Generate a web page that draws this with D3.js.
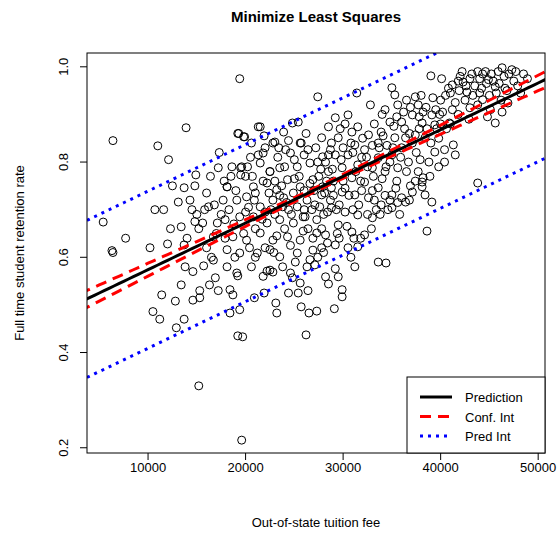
<!DOCTYPE html>
<html>
<head>
<meta charset="utf-8">
<script src="https://d3js.org/d3.v7.min.js"></script>
<style>
body { margin: 0; background: #fff; }
text { font-family: "Liberation Sans", Arial, sans-serif; }
</style>
</head>
<body>
<div id="chart"></div>
<script>
// tuition fee (thousands), retention rate
var pts = [
[6.4,0.845],[19.4,0.975],[13.9,0.872],[11.0,0.834],[12.1,0.805],[5.4,0.674],[7.7,0.64],[6.3,0.614],
[10.2,0.62],[10.7,0.70],[11.6,0.70],[12.5,0.75],[13.7,0.746],[14.8,0.75],[14.9,0.773],[13.1,0.716],
[14.3,0.72],[14.5,0.70],[13.4,0.664],[12.3,0.66],[12.0,0.628],[13.7,0.626],[16.0,0.735],[16.2,0.706],
[17.2,0.788],[17.3,0.82],[18.1,0.748],[16.4,0.77],[17.1,0.672],[15.6,0.672],[14.8,0.675],[16.7,0.643],
[19.2,0.86],[19.8,0.853],[21.3,0.874],[19.5,0.788],[20.2,0.79],[19.5,0.773],[21.3,0.815],[22.5,0.78],
[23.0,0.842],[23.9,0.863],[24.8,0.882],[25.4,0.884],[25.7,0.84],[26.4,0.826],
[6.4,0.61],[11.4,0.521],[12.8,0.508],[10.5,0.486],[11.2,0.47],[12.9,0.452],[13.7,0.47],[13.4,0.542],
[14.6,0.51],[15.3,0.515],[15.3,0.53],[16.3,0.542],[16.9,0.557],[17.2,0.53],[18.4,0.532],[18.7,0.521],
[18.4,0.483],[19.4,0.49],[19.2,0.435],[19.7,0.433],[15.2,0.33],[19.6,0.216],[13.8,0.58],[14.6,0.57],
[15.7,0.582],[16.7,0.594],[18.1,0.58],[19.2,0.561],[21.0,0.60],[20.9,0.515],[21.9,0.525],[22.2,0.571],
[22.8,0.569],[23.1,0.504],[23.2,0.483],[24.4,0.525],[24.8,0.557],[25.6,0.546],[25.4,0.525],[26.4,0.53],
[25.7,0.496],[26.5,0.483],[27.3,0.487],[26.2,0.437],[28.2,0.559],[28.5,0.544],[29.2,0.576],[29.5,0.559],
[29.1,0.492],[29.9,0.532],[29.9,0.517],[31.2,0.58],[33.6,0.59],[34.4,0.588],[27.1,0.584],[27.4,0.60],
[39.0,0.981],[40.1,0.975],[27.4,0.937],[31.4,0.945],[35.0,0.956],[35.3,0.941],[37.4,0.937],[37.7,0.92],
[43.8,0.756],[38.6,0.655],[39.1,0.716],[40.4,0.80],[41.3,0.836],[41.5,0.815],[40.4,0.826],[45.6,0.882],
[46.3,0.905],[46.9,0.924],[48.9,0.975],[47.3,0.994],[46.3,0.998],[43.8,0.99],[41.2,0.962],[42.3,0.968],
[44.9,0.973],[43.0,0.914],[42.7,0.947],[44.8,0.895],[44.3,0.931],[45.6,0.958],[39.1,0.899],[39.4,0.878],
[40.9,0.882],[35.6,0.92],[34.3,0.91],[34.8,0.884],[36.0,0.884],[37.1,0.899],[38.1,0.882],[38.4,0.851],
[39.4,0.821],[37.4,0.857],[36.4,0.851],[35.3,0.851],[33.9,0.863],[33.6,0.84],[32.6,0.857],[31.5,0.874],
[30.5,0.899],[29.2,0.893],[28.5,0.874],[27.8,0.851],[29.5,0.851],[30.9,0.863],[31.2,0.836],[32.2,0.826],
[33.6,0.809],[35.0,0.815],[36.0,0.83],[36.7,0.80],[35.6,0.788],[34.3,0.78],[33.0,0.788],[31.5,0.794],
[30.5,0.815],[29.2,0.815],[28.2,0.80],[28.5,0.78],[29.9,0.788],[30.9,0.767],[32.2,0.758],[33.6,0.746],
[35.0,0.731],[36.4,0.716],[37.1,0.737],[38.1,0.758],[38.4,0.731],[33.9,0.71],[32.6,0.725],[31.2,0.731],
[29.9,0.737],[28.8,0.746],[27.8,0.731],[28.8,0.704],[30.2,0.695],[31.5,0.689],[33.0,0.683],[35.0,0.704],
[36.0,0.725],[29.5,0.668],[30.9,0.653],[32.2,0.647],[28.2,0.647],[29.2,0.626],[30.5,0.62],[31.5,0.622],
[27.8,0.62],[38.2,0.767],[38.1,0.748],
[21.5,0.874],[19.3,0.86],[19.9,0.853],[22.8,0.84],[24.1,0.826],[25.6,0.84],[24.6,0.819],[21.8,0.819],
[19.6,0.79],[21.5,0.798],[22.5,0.78],[23.5,0.788],[25.3,0.79],[26.6,0.798],[27.9,0.811],[28.7,0.826],
[18.1,0.748],[20.7,0.77],[20.8,0.748],[22.2,0.756],[23.2,0.742],[24.3,0.763],[25.6,0.748],[26.9,0.763],
[27.9,0.748],[19.1,0.72],[20.1,0.727],[21.5,0.706],[22.8,0.72],[23.8,0.706],[25.3,0.706],[26.3,0.72],
[27.6,0.706],[28.7,0.72],[17.9,0.679],[19.4,0.685],[20.8,0.685],[22.2,0.672],[23.5,0.679],[24.9,0.672],
[25.9,0.685],[27.3,0.679],[18.7,0.643],[20.1,0.636],[21.5,0.651],[22.8,0.636],[24.3,0.643],[25.6,0.636],
[27.3,0.651],[28.4,0.63],[18.1,0.616],[19.4,0.609],[21.2,0.609],[22.5,0.616],[23.5,0.601],[25.3,0.609],
[26.6,0.595],[19.1,0.567],[22.5,0.573],[24.6,0.567],[26.3,0.58],
[20.3,0.705],[21.0,0.735],[22.0,0.695],[23.0,0.76],[23.9,0.725],[24.7,0.69],[25.0,0.765],[26.0,0.74],
[26.8,0.70],[27.5,0.77],[28.0,0.69],[29.0,0.76],[29.6,0.71],[30.2,0.745],[31.0,0.70],[31.8,0.76],
[32.5,0.79],[33.2,0.72],[34.0,0.765],[34.8,0.80],[35.5,0.76],[36.5,0.78],[37.5,0.82],[38.8,0.80],
[39.8,0.85],[40.6,0.87],[41.8,0.90],[42.5,0.93],[43.5,0.96],[44.2,0.955],[45.0,0.94],[45.2,0.985],
[46.0,0.965],[46.8,0.95],[47.5,0.97],[44.0,0.975],[43.2,0.985],[42.0,0.98],[41.0,0.945],[40.0,0.93],
[39.5,0.91],[38.5,0.915],[37.8,0.87],[36.8,0.86],[36.2,0.905],[35.2,0.875],[34.5,0.835],[33.2,0.88],
[32.0,0.85],[31.0,0.82],[30.0,0.83],[29.7,0.87],[28.8,0.84],[27.2,0.83],[26.2,0.86],[25.0,0.805],
[24.0,0.79],[23.3,0.81],[22.0,0.83],[20.5,0.81],[20.0,0.77],[18.6,0.79],[18.3,0.70],[17.7,0.72],
[17.0,0.65],[16.0,0.62],[15.2,0.66],[14.0,0.64],[18.9,0.60],[20.6,0.58],[21.8,0.56],[23.8,0.58],
[25.1,0.59],[26.9,0.615],[27.8,0.66],[28.4,0.695],[29.6,0.64],[30.8,0.60],[31.8,0.64],[32.9,0.66],
[33.8,0.69],[34.6,0.70],[35.8,0.69],[36.9,0.75],[37.7,0.78],[39.0,0.84],[40.2,0.905],[41.5,0.925],
[42.9,0.89],[43.8,0.92],[45.1,0.91],[46.2,0.93],[47.9,0.96],[48.2,0.945],[47.0,0.985],[45.9,0.99],
[44.6,0.99],[41.8,0.97],[40.8,0.955],[38.0,0.94],[36.5,0.93],[34.0,0.90],[32.8,0.92],[30.2,0.88],
[24.4,0.70],[22.6,0.70],[21.0,0.66],[19.8,0.65],[26.4,0.66],[27.0,0.74],[28.3,0.76],[24.0,0.66],
[22.9,0.61],[20.4,0.62],[19.0,0.74],[21.8,0.76],[23.5,0.73],[26.0,0.70],[29.0,0.73],[31.6,0.71],
[33.0,0.74],[34.3,0.73],[35.4,0.745],[36.8,0.72],[37.9,0.805],[39.6,0.87],[40.0,0.88],[41.0,0.88],
[20.0,0.695],[20.9,0.72],[21.7,0.68],[22.4,0.735],[23.0,0.69],[23.7,0.75],[24.2,0.715],[24.9,0.735],
[25.5,0.77],[26.1,0.685],[26.6,0.755],[27.1,0.71],[27.7,0.785],[28.1,0.735],[28.9,0.785],[29.3,0.70],
[30.0,0.76],[30.6,0.73],[31.3,0.78],[31.9,0.74],[32.4,0.81],[33.1,0.77],[33.7,0.83],[34.4,0.79],
[35.1,0.83],[35.9,0.81],[36.3,0.87],[37.1,0.84],[37.8,0.895],[38.6,0.87],[39.2,0.935],[39.9,0.90],
[40.5,0.94],[41.2,0.91],[41.9,0.95],[42.6,0.96],[43.3,0.94],[44.0,0.945],[44.7,0.965],[45.4,0.97],
[46.5,0.98],[47.7,0.99],[42.2,0.99],[43.0,0.975],[44.3,0.985],[45.7,0.945],[46.6,0.955],[48.5,0.985],
[22.0,0.62],[23.2,0.645],[24.6,0.625],[25.9,0.655],[26.9,0.64],[28.0,0.61],[29.4,0.65],[30.4,0.665],
[31.1,0.64],[32.5,0.69],[33.4,0.70],[34.8,0.72],[35.6,0.715],[37.4,0.76],[38.9,0.77],[39.8,0.79],
[20.6,0.84],[21.9,0.855],[23.4,0.83],[24.4,0.845],[26.0,0.815],[27.4,0.80],[28.5,0.815],[29.8,0.805],
[30.8,0.84],[31.9,0.81],[33.0,0.835],[34.1,0.855],[35.5,0.895],[36.9,0.915],[38.2,0.905],[18.8,0.67],
[17.5,0.69],[16.8,0.71],[15.8,0.70],[15.0,0.69],[17.9,0.64],[16.5,0.60],[18.5,0.77],[17.8,0.76]
];
var fitCoef = [0.476, 0.0098];      // intercept, slope per thousand
var ciPar = [0.000016, 5.13e-7, 28]; // var floor, growth per k^2, centre
var piHalf = 0.165;
var xTicks = [10, 20, 30, 40, 50];
var yTicks = [0.2, 0.4, 0.6, 0.8, 1.0];

var W = 557, H = 533;
var svg = d3.select("#chart").append("svg").attr("width", W).attr("height", H);
var x = d3.scaleLinear().domain([3.74, 50.7]).range([87, 545]);
var y = d3.scaleLinear().domain([0.189, 1.029]).range([453, 53]);

svg.append("clipPath").attr("id", "c").append("rect")
  .attr("x", 87).attr("y", 53).attr("width", 458).attr("height", 400);

var g = svg.append("g").attr("clip-path", "url(#c)");
g.selectAll("circle").data(pts).enter().append("circle")
  .attr("cx", d => x(d[0])).attr("cy", d => y(d[1])).attr("r", 4)
  .attr("fill", "none").attr("stroke", "#000").attr("stroke-width", 1);

var xs = d3.range(3, 51.5, 0.5);
function fit(v) { return fitCoef[0] + fitCoef[1] * v; }
function ci(v) { return Math.sqrt(ciPar[0] + ciPar[1] * (v - ciPar[2]) * (v - ciPar[2])); }
function draw(f, col, w, dash) {
  g.append("path").datum(xs)
    .attr("d", d3.line().x(d => x(d)).y(d => y(f(d))))
    .attr("fill", "none").attr("stroke", col).attr("stroke-width", w)
    .attr("stroke-dasharray", dash);
}
draw(v => fit(v) + piHalf, "#0000ff", 3, "3,5");
draw(v => fit(v) - piHalf, "#0000ff", 3, "3,5");
draw(v => fit(v) + ci(v), "#ff0000", 3, "11,7");
draw(v => fit(v) - ci(v), "#ff0000", 3, "11,7");
draw(fit, "#000", 3, null);

svg.append("rect").attr("x", 87).attr("y", 53).attr("width", 458).attr("height", 400)
  .attr("fill", "none").attr("stroke", "#000").attr("stroke-width", 1);

xTicks.forEach(function(t) {
  svg.append("line").attr("x1", x(t)).attr("x2", x(t)).attr("y1", 453).attr("y2", 460).attr("stroke", "#000");
  svg.append("text").attr("x", x(t)).attr("y", 472).attr("text-anchor", "middle")
    .attr("font-size", 13).text(t * 1000);
});
yTicks.forEach(function(t) {
  svg.append("line").attr("x1", 80).attr("x2", 87).attr("y1", y(t)).attr("y2", y(t)).attr("stroke", "#000");
  svg.append("text").attr("transform", "translate(68," + y(t) + ") rotate(-90)")
    .attr("text-anchor", "middle").attr("font-size", 13).text(t.toFixed(1));
});

svg.append("text").attr("x", 316).attr("y", 22).attr("text-anchor", "middle")
  .attr("font-size", 15).attr("font-weight", "bold").text("Minimize Least Squares");
svg.append("text").attr("x", 316).attr("y", 527).attr("text-anchor", "middle")
  .attr("font-size", 13).text("Out-of-state tuition fee");
svg.append("text").attr("transform", "translate(24,253) rotate(-90)")
  .attr("text-anchor", "middle").attr("font-size", 13).text("Full time student retention rate");

var leg = [["Prediction", "#000", null], ["Conf. Int", "#ff0000", "11,7"], ["Pred Int", "#0000ff", "3,5"]];
svg.append("rect").attr("x", 407).attr("y", 377).attr("width", 138).attr("height", 76)
  .attr("fill", "#fff").attr("stroke", "#000");
leg.forEach(function(l, i) {
  var yy = 397 + i * 19.5;
  svg.append("line").attr("x1", 420).attr("x2", 452).attr("y1", yy).attr("y2", yy)
    .attr("stroke", l[1]).attr("stroke-width", 3).attr("stroke-dasharray", l[2]);
  svg.append("text").attr("x", 465).attr("y", yy + 5).attr("font-size", 13).text(l[0]);
});
</script>
</body>
</html>
